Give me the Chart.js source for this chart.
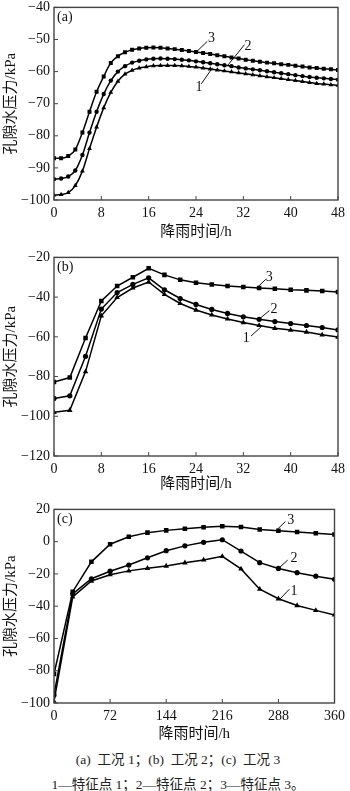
<!DOCTYPE html>
<html>
<head>
<meta charset="utf-8">
<script src="https://cdn.jsdelivr.net/npm/chart.js@4.4.0/dist/chart.umd.min.js"></script>
<style>
body { margin: 0; background: #fff; width: 350px; height: 791px; position: relative; overflow: hidden; }
.panel { position: absolute; left: 0; width: 350px; }
.cap { position: absolute; left: 0; width: 356px; text-align: center; font-size: 13.5px; color: #222;
       font-family: 'Liberation Serif', 'Noto Sans CJK SC', serif; white-space: pre; }
</style>
</head>
<body>
<canvas id="chartA" class="panel" width="350" height="250" style="top:-5px"></canvas>
<canvas id="chartB" class="panel" width="350" height="251" style="top:245px"></canvas>
<canvas id="chartC" class="panel" width="350" height="248" style="top:497px"></canvas>
<div class="cap" style="top:748px">(a)  工况 1；(b)  工况 2；(c)  工况 3</div>
<div class="cap" style="top:773px">1—特征点 1；2—特征点 2；3—特征点 3。</div>

<script>
// panel (a) - case 1
var timeA = [0, 1.2, 2.4, 3.6, 4.8, 6, 7.2, 8.4, 9.6, 10.8, 12, 13.2, 14.4, 15.6, 16.8, 18, 19.2, 20.4,
    21.6, 22.8, 24, 25.2, 26.4, 27.6, 28.8, 30, 31.2, 32.4, 33.6, 34.8, 36, 37.2, 38.4, 39.6, 40.8, 42,
    43.2, 44.4, 45.6, 46.8, 48];
var a1 = [-98.5, -98.3, -97.7, -95.5, -91, -84, -77.3, -71.3, -66.5, -63, -60.8, -59.6, -58.9, -58.5,
    -58.2, -58.1, -58.1, -58.1, -58.2, -58.4, -58.6, -58.9, -59.2, -59.5, -59.8, -60.1, -60.4, -60.7,
    -61, -61.3, -61.6, -61.9, -62.2, -62.5, -62.8, -63.1, -63.4, -63.7, -63.9, -64.1, -64.3];
var a2 = [-93.5, -93.3, -92.7, -90.8, -86, -79, -72.5, -67, -62.8, -60, -58.3, -57.2, -56.6, -56.2,
    -56, -55.9, -56, -56.1, -56.3, -56.5, -56.8, -57.1, -57.4, -57.7, -58, -58.3, -58.7, -59, -59.3,
    -59.6, -59.9, -60.2, -60.5, -60.8, -61.1, -61.4, -61.7, -61.9, -62.1, -62.3, -62.5];
var a3 = [-87, -87, -86.3, -84.3, -79, -72.5, -66.3, -61.5, -57.3, -55.2, -54, -53.2, -52.8, -52.6,
    -52.5, -52.6, -52.8, -53, -53.3, -53.6, -53.9, -54.2, -54.5, -54.9, -55.2, -55.6, -55.9, -56.3,
    -56.6, -56.9, -57.2, -57.4, -57.7, -57.9, -58.2, -58.4, -58.7, -58.9, -59.1, -59.3, -59.5];

// panel (b) - case 2
var timeB = [0, 2.67, 5.33, 8, 10.67, 13.33, 16, 18.67, 21.33, 24, 26.67, 29.33, 32, 34.67, 37.33,
    40, 42.67, 45.33, 48];
var b1 = [-98, -97, -77.5, -49.4, -40.2, -35.4, -32.4, -38.6, -43.2, -46.5, -49, -51, -52.8, -54.3,
    -55.7, -56.6, -57.6, -59, -60.1];
var b2 = [-91, -89.7, -69.8, -46, -37.7, -33.6, -30.3, -36.3, -40.7, -43.7, -46.2, -48.2, -49.9,
    -51.2, -52.3, -53.3, -54.3, -55.3, -56.5];
var b3 = [-82.7, -80.5, -60.6, -41.9, -34.4, -30, -25.5, -28.8, -31.3, -32.8, -33.6, -34.4, -34.9,
    -35.4, -35.8, -36.3, -36.6, -36.9, -37.4];

// panel (c) - case 3
var timeC = [0, 24, 48, 72, 96, 120, 144, 168, 192, 216, 240, 264, 288, 312, 336, 360];
var c1 = [-99, -34.3, -24.4, -20.5, -18.1, -16.5, -15.1, -13.1, -11.3, -9.1, -16.9, -29.5, -35.4,
    -39.6, -42.6, -45.4];
var c2 = [-95, -32.4, -23, -18.3, -14.5, -10, -5.6, -2.6, -0.4, 1.2, -5.8, -13, -16.6, -19.2, -21.4,
    -23.3];
var c3 = [-82, -31, -12.5, -1.6, 3, 5.6, 7, 8, 9, 9.5, 9.1, 7.6, 6.8, 6, 5.2, 4.4];

var serif = "'Liberation Serif', 'Noto Sans CJK SC', serif";
var yTitle = '孔隙水压力/kPa';
var xTitle = '降雨时间/h';

// box, inward ticks, panel tag and curve labels
var framePlugin = {
    id: 'frame',
    afterDraw: function (chart) {
        var o = chart.options.plugins.frame;
        var ctx = chart.ctx;
        var a = chart.chartArea;
        var xs = chart.scales.x;
        var ys = chart.scales.y;
        ctx.save();
        ctx.strokeStyle = '#444';
        ctx.lineWidth = 1.4;
        ctx.strokeRect(a.left, a.top, a.right - a.left, a.bottom - a.top);

        ctx.lineWidth = 1;
        ctx.beginPath();
        xs.ticks.forEach(function (t) {
            var px = xs.getPixelForValue(t.value);
            ctx.moveTo(px, a.bottom);
            ctx.lineTo(px, a.bottom - 4);
        });
        ys.ticks.forEach(function (t) {
            var py = ys.getPixelForValue(t.value);
            ctx.moveTo(a.left, py);
            ctx.lineTo(a.left + 4, py);
        });
        ctx.stroke();

        ctx.fillStyle = '#111';
        ctx.font = '14px ' + serif;
        ctx.textBaseline = 'middle';
        ctx.textAlign = 'left';
        ctx.fillText(o.tag, a.left + 3, a.top + 10);

        ctx.textAlign = 'center';
        ctx.strokeStyle = '#111';
        o.labels.forEach(function (l) {
            ctx.beginPath();
            ctx.moveTo(xs.getPixelForValue(l.from[0]), ys.getPixelForValue(l.from[1]));
            ctx.lineTo(xs.getPixelForValue(l.to[0]), ys.getPixelForValue(l.to[1]));
            ctx.stroke();
            ctx.fillText(l.text, xs.getPixelForValue(l.at[0]), ys.getPixelForValue(l.at[1]));
        });
        ctx.restore();
    }
};

function makeSet(xs, ys, style, r, smooth) {
    var set = {
        data: xs.map(function (x, i) { return { x: x, y: ys[i] }; }),
        borderColor: '#000',
        backgroundColor: '#000',
        borderWidth: 1.5,
        pointStyle: style,
        pointRadius: r,
        pointBorderWidth: 0,
        tension: 0
    };
    if (smooth) set.cubicInterpolationMode = 'monotone';
    return set;
}

function makeChart(id, sets, xMax, xStep, yMin, yMax, yStep, axisH, titlePad, tag, labels) {
    var ctx = document.getElementById(id).getContext('2d');
    return new Chart(ctx, {
        type: 'line',
        data: { datasets: sets },
        options: {
            responsive: false,
            animation: false,
            layout: { padding: { top: 10, right: 11, left: 0, bottom: 0 } },
            plugins: {
                legend: { display: false },
                tooltip: { enabled: false },
                frame: { tag: tag, labels: labels }
            },
            scales: {
                x: {
                    type: 'linear',
                    min: 0,
                    max: xMax,
                    grid: { display: false, drawTicks: false },
                    border: { display: false },
                    ticks: { stepSize: xStep, color: '#111', padding: 5, maxRotation: 0,
                        font: { family: serif, size: 14 } },
                    title: { display: true, text: xTitle, color: '#111',
                        padding: { top: 0, bottom: titlePad },
                        font: { family: serif, size: 15 } },
                    afterFit: function (scale) { scale.height = axisH; }
                },
                y: {
                    min: yMin,
                    max: yMax,
                    grid: { display: false, drawTicks: false },
                    border: { display: false },
                    ticks: {
                        stepSize: yStep, color: '#111', padding: 4,
                        font: { family: serif, size: 14 },
                        callback: function (v) { return String(v).replace('-', '\u2212'); }
                    },
                    title: { display: true, text: yTitle, color: '#111',
                        padding: { top: 2, bottom: 0 },
                        font: { family: serif, size: 15 } },
                    afterFit: function (scale) { scale.width = 54; }
                }
            }
        },
        plugins: [framePlugin]
    });
}

makeChart('chartA', [
    makeSet(timeA, a1, 'triangle', 2.8, true),
    makeSet(timeA, a2, 'circle', 2.2, true),
    makeSet(timeA, a3, 'rect', 2.8, true)
], 48, 8, -100, -40, 10, 45, 4, '(a)', [
    { text: '3', at: [26.6, -49.5], from: [24.1, -53.8], to: [25.9, -50.6] },
    { text: '2', at: [32.8, -52], from: [29.3, -58.2], to: [32.2, -51.6] },
    { text: '1', at: [24.5, -65], from: [24.9, -63.8], to: [26.8, -58.8] }
]);

makeChart('chartB', [
    makeSet(timeB, b1, 'triangle', 3.2, false),
    makeSet(timeB, b2, 'circle', 2.6, false),
    makeSet(timeB, b3, 'rect', 3.2, false)
], 48, 8, -120, -20, 20, 40, 3, '(b)', [
    { text: '3', at: [36.4, -30], from: [34.2, -35.6], to: [35.8, -31] },
    { text: '2', at: [37.2, -46], from: [34.7, -51], to: [36.4, -46.8] },
    { text: '1', at: [32.5, -61], from: [33.3, -59.6], to: [35.2, -54.4] }
]);

makeChart('chartC', [
    makeSet(timeC, c1, 'triangle', 3.2, false),
    makeSet(timeC, c2, 'circle', 2.6, false),
    makeSet(timeC, c3, 'rect', 3.2, false)
], 360, 72, -100, 20, 20, 42, 2, '(c)', [
    { text: '3', at: [304, 13], from: [285.5, 7.1], to: [297, 12.5] },
    { text: '2', at: [308, -10.6], from: [288, -16.6], to: [300, -11.4] },
    { text: '1', at: [308, -31], from: [290, -35.6], to: [302, -29.5] }
]);
</script>
</body>
</html>
